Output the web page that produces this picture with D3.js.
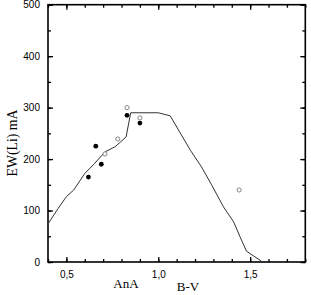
<!DOCTYPE html>
<html>
<head>
<meta charset="utf-8">
<script src="https://cdn.jsdelivr.net/npm/d3@7"></script>
<style>
body { margin: 0; background: #fff; }
</style>
</head>
<body>
<div id="chart"></div>
<script>
// model curve EW(Li) vs B-V
var curveBV = [0.40, 0.455, 0.50, 0.54, 0.60, 0.655, 0.71, 0.765, 0.825, 0.85, 1.0, 1.065, 1.175, 1.235, 1.29, 1.355, 1.41, 1.445, 1.48, 1.56];
var curveEW = [74, 104, 127, 140, 172, 192, 214, 224, 243, 290, 290, 284, 217, 185, 150, 107, 78, 49, 21, 2];

// filled dots
var filledBV = [0.62, 0.66, 0.69, 0.83, 0.90];
var filledEW = [165, 225, 190, 285, 270];

// open dots
var openBV = [0.71, 0.78, 0.83, 0.90, 1.44];
var openEW = [210, 239, 300, 280, 140];

var xTicks = [0.5, 1.0, 1.5];
var xTickLabels = ["0,5", "1,0", "1,5"];
var yTicks = [0, 100, 200, 300, 400, 500];

var width = 311, height = 295;
// note: "top" is taken by window.top, so use plot* names
var plotL = 48, plotR = 305.3, plotT = 4.7, plotB = 262;

var svg = d3.select("#chart").append("svg")
	.attr("width", width)
	.attr("height", height);

var x = d3.scaleLinear().domain([0.4, 1.8]).range([plotL, plotR]);
var y = d3.scaleLinear().domain([0, 500]).range([plotB, plotT]);

var minorX = d3.range(0.4, 1.81, 0.1).map(function(d) { return Math.round(d * 10) / 10; });
var minorY = d3.range(0, 501, 50);

// bottom + top axes, ticks inward
svg.append("g").attr("transform", "translate(0," + plotB + ")")
	.call(d3.axisBottom(x).tickValues(xTicks).tickSize(-5).tickPadding(9)
		.tickFormat(function(d, i) { return xTickLabels[i]; }));
svg.append("g").attr("transform", "translate(0," + plotB + ")")
	.call(d3.axisBottom(x).tickValues(minorX).tickSize(-3).tickFormat(""));
svg.append("g").attr("transform", "translate(0," + plotT + ")")
	.call(d3.axisTop(x).tickValues(xTicks).tickSize(-5).tickFormat(""));
svg.append("g").attr("transform", "translate(0," + plotT + ")")
	.call(d3.axisTop(x).tickValues(minorX).tickSize(-3).tickFormat(""));

// left + right axes
svg.append("g").attr("transform", "translate(" + plotL + ",0)")
	.call(d3.axisLeft(y).tickValues(yTicks).tickSize(-5).tickPadding(8));
svg.append("g").attr("transform", "translate(" + plotL + ",0)")
	.call(d3.axisLeft(y).tickValues(minorY).tickSize(-3).tickFormat(""));
svg.append("g").attr("transform", "translate(" + plotR + ",0)")
	.call(d3.axisRight(y).tickValues(yTicks).tickSize(-5).tickFormat(""));
svg.append("g").attr("transform", "translate(" + plotR + ",0)")
	.call(d3.axisRight(y).tickValues(minorY).tickSize(-3).tickFormat(""));

svg.selectAll(".domain").remove();
svg.selectAll(".tick line").attr("stroke", "#000").attr("stroke-width", 1.3);
svg.selectAll(".tick text")
	.attr("font-family", "Liberation Sans, Arial, sans-serif")
	.attr("font-size", 10)
	.attr("fill", "#000");

// frame
svg.append("rect")
	.attr("x", plotL).attr("y", plotT)
	.attr("width", plotR - plotL).attr("height", plotB - plotT)
	.attr("fill", "none").attr("stroke", "#000").attr("stroke-width", 1.6);

// curve
var pts = curveBV.map(function(d, i) { return [d, curveEW[i]]; });
svg.append("path")
	.datum(pts)
	.attr("d", d3.line().x(function(d) { return x(d[0]); }).y(function(d) { return y(d[1]); }))
	.attr("fill", "none")
	.attr("stroke", "#333")
	.attr("stroke-width", 1);

// open dots
svg.selectAll(".open").data(openBV).enter().append("circle")
	.attr("class", "open")
	.attr("cx", function(d) { return x(d); })
	.attr("cy", function(d, i) { return y(openEW[i]); })
	.attr("r", 2.1)
	.attr("fill", "#fff")
	.attr("stroke", "#777")
	.attr("stroke-width", 0.9);

// filled dots
svg.selectAll(".filled").data(filledBV).enter().append("circle")
	.attr("class", "filled")
	.attr("cx", function(d) { return x(d); })
	.attr("cy", function(d, i) { return y(filledEW[i]); })
	.attr("r", 2.4)
	.attr("fill", "#000");

// axis titles
svg.append("text")
	.attr("x", 126).attr("y", 288)
	.attr("text-anchor", "middle")
	.attr("font-family", "Liberation Serif, Times New Roman, serif")
	.attr("font-size", 13)
	.text("AnA");
svg.append("text")
	.attr("x", 188).attr("y", 290.5)
	.attr("text-anchor", "middle")
	.attr("font-family", "Liberation Serif, Times New Roman, serif")
	.attr("font-size", 13)
	.text("B-V");
svg.append("text")
	.attr("transform", "translate(16.5,143) rotate(-90)")
	.attr("text-anchor", "middle")
	.attr("font-family", "Liberation Serif, Times New Roman, serif")
	.attr("font-size", 13.8)
	.text("EW(Li) mA");
</script>
</body>
</html>
